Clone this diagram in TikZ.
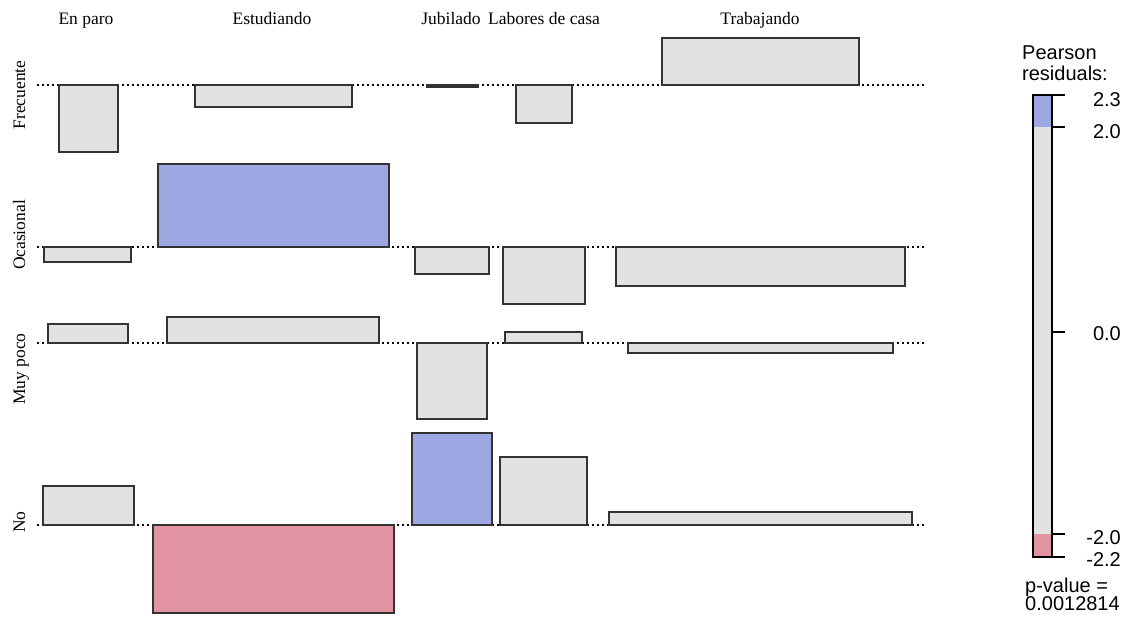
\documentclass[tikz,border=0pt]{standalone}
\usepackage{fontspec}
\setmainfont{Liberation Serif}
\setsansfont{Liberation Sans}
\usepackage{tikz}
\usetikzlibrary{positioning}

\definecolor{cellgray}{HTML}{E2E2E2}
\definecolor{cellblue}{HTML}{9DA8E2}
\definecolor{cellred}{HTML}{E293A2}
\definecolor{cellline}{HTML}{333333}

\tikzset{
    cell/.style={draw=cellline, line width=1.3pt, fill=cellgray},
    poscell/.style={cell, fill=cellblue},
    negcell/.style={cell, fill=cellred},
    dotline/.style={dash pattern=on 2pt off 3pt, line width=1.2pt},
    varlabel/.style={font=\fontsize{17.5}{20}\selectfont, anchor=base, inner sep=0pt},
    rowlabel/.style={varlabel, rotate=90},
    legtext/.style={font=\sffamily\fontsize{20}{22}\selectfont, inner sep=0pt},
    legtick/.style={line width=1.3pt},
}

\begin{document}
\begin{tikzpicture}
        [x=1pt, y=-1pt]
        \useasboundingbox[fill=white] (0,0) rectangle (1134,616);

        % Column labels
        \node[varlabel] (c_paro) at (86,24) {En paro};
        \node[varlabel] (c_estud) at (272,24) {Estudiando};
        \node[varlabel] (c_jubil) at (451,24) {Jubilado};
        \node[varlabel] (c_labor) at (544,24) {Labores de casa};
        \node[varlabel] (c_trab) at (760,24) {Trabajando};

        % Row labels
        \node[rowlabel] (r_frec) at (25,95) {Frecuente};
        \node[rowlabel] (r_ocas) at (25,235) {Ocasional};
        \node[rowlabel] (r_muy) at (25,369) {Muy poco};
        \node[rowlabel] (r_no) at (25,522) {No};

        % Baselines
        \draw[dotline] (37,85) -- (926,85);
        \draw[dotline] (37,247) -- (926,247);
        \draw[dotline] (37,343) -- (926,343);
        \draw[dotline] (37,525) -- (926,525);

        % Frecuente
        \draw[cell] (59,85) rectangle (118,152);
        \draw[cell] (195,85) rectangle (352,107);
        \draw[cell] (427,85) rectangle (478,87);
        \draw[cell] (516,85) rectangle (572,123);
        \draw[cell] (662,38) rectangle (859,85);

        % Ocasional
        \draw[cell] (44,247) rectangle (131,262);
        \draw[poscell] (158,164) rectangle (389,247);
        \draw[cell] (415,247) rectangle (489,274);
        \draw[cell] (503,247) rectangle (585,304);
        \draw[cell] (616,247) rectangle (905,286);

        % Muy poco
        \draw[cell] (48,324) rectangle (128,343);
        \draw[cell] (167,317) rectangle (379,343);
        \draw[cell] (417,343) rectangle (487,419);
        \draw[cell] (505,332) rectangle (582,343);
        \draw[cell] (628,343) rectangle (893,353);

        % No
        \draw[cell] (43,486) rectangle (134,525);
        \draw[negcell] (153,525) rectangle (394,613);
        \draw[poscell] (412,433) rectangle (492,525);
        \draw[cell] (500,457) rectangle (587,525);
        \draw[cell] (609,512) rectangle (912,525);

        % Legend
        \node[legtext, anchor=base west] (leg_title) at (1022,59) {Pearson};
        \node[legtext, anchor=base west] (leg_title2) at (1022,80) {residuals:};
        \fill[cellgray] (1033,127) rectangle (1052,534);
        \fill[cellblue] (1033,95) rectangle (1052,127);
        \fill[cellred] (1033,534) rectangle (1052,557);
        \draw[line width=1.3pt] (1033,95) rectangle (1052,557);
        \draw[legtick] (1052,95) -- (1065,95);
        \draw[legtick] (1052,127) -- (1065,127);
        \draw[legtick] (1052,332) -- (1065,332);
        \draw[legtick] (1052,534) -- (1065,534);
        \draw[legtick] (1052,557) -- (1065,557);
        \node[legtext, anchor=base east] (t_a) at (1121,106) {2.3};
        \node[legtext, anchor=base east] (t_b) at (1121,138) {2.0};
        \node[legtext, anchor=base east] (t_c) at (1121,340) {0.0};
        \node[legtext, anchor=base east] (t_d) at (1121,544) {-2.0};
        \node[legtext, anchor=base east] (t_e) at (1121,566) {-2.2};
        \node[legtext, anchor=base west] (pval) at (1025,592) {p-value =};
        \node[legtext, anchor=base west] (pval2) at (1025,610) {0.0012814};
    \end{tikzpicture}
\end{document}
